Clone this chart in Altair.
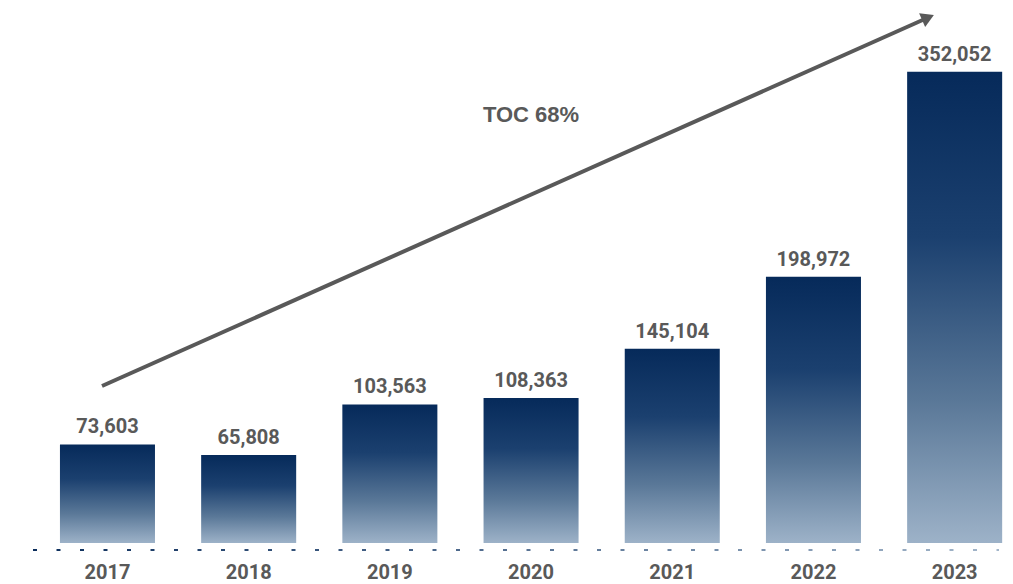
import altair as alt
import pandas as pd

years = ["2017", "2018", "2019", "2020", "2021", "2022", "2023"]
values = [73603, 65808, 103563, 108363, 145104, 198972, 352052]
annotation = "TOC 68%"

df = pd.DataFrame({"year": years, "value": values})

W, H = 970, 522
TEXT = "#595959"
NARROW = "Roboto, Liberation Sans, sans-serif"

x = alt.X("year:N", sort=years, axis=None,
          scale=alt.Scale(paddingInner=0.327, paddingOuter=0.0984, align=0.97))
y_scale = alt.Scale(domain=[0, 390000], nice=False, zero=True)

base = alt.Chart(df)

bars = base.mark_bar(
    color=alt.Gradient(
        gradient="linear", x1=0, x2=0, y1=0, y2=1,
        stops=[alt.GradientStop(offset=0, color="#062a5a"),
               alt.GradientStop(offset=0.35, color="#1b406f"),
               alt.GradientStop(offset=0.7, color="#5a7898"),
               alt.GradientStop(offset=1, color="#9db2c8")]),
).encode(x=x, y=alt.Y("value:Q", scale=y_scale, axis=None))

vlabels = base.mark_text(
    font=NARROW, fontSize=20, fontWeight="bold", color=TEXT,
    baseline="alphabetic", dy=-11,
).encode(x=x, y=alt.Y("value:Q", scale=y_scale), text=alt.Text("value:Q", format=",d"))

ylabels = base.mark_text(
    font=NARROW, fontSize=20, fontWeight="bold", color=TEXT,
    baseline="alphabetic",
).encode(x=x, y=alt.value(H + 36), text="year:N")

one = alt.Data(values=[{}])

dash_band = alt.Chart(one).mark_rect(
    color=alt.Gradient(
        gradient="linear", x1=0, x2=1, y1=0, y2=0,
        stops=[alt.GradientStop(offset=0, color="#0b2d5b"),
               alt.GradientStop(offset=1, color="#a3b6ca")]),
).encode(x=alt.value(0), x2=alt.value(W - 4), y=alt.value(H + 6), y2=alt.value(H + 8))

dash_mask = alt.Chart(one).mark_rule(
    color="white", strokeWidth=4, strokeDash=[19.5, 4], strokeDashOffset=19.5,
).encode(x=alt.value(0), x2=alt.value(W), y=alt.value(H + 7))

arrow = alt.Chart(one).mark_rule(
    color=TEXT, strokeWidth=4,
).encode(x=alt.value(69), x2=alt.value(893), y=alt.value(365), y2=alt.value(-2.5))

head = alt.Chart(one).mark_point(
    shape="triangle-right", filled=True, color=TEXT, opacity=1, size=220, angle=336,
).encode(x=alt.value(895), y=alt.value(-3.5))

toc = alt.Chart(one).mark_text(
    font="Liberation Sans, Arial, sans-serif", fontSize=22, fontWeight="bold",
    color=TEXT, baseline="middle", align="center",
).encode(x=alt.value(498), y=alt.value(94), text=alt.value(annotation))

chart = alt.layer(dash_band, dash_mask, bars, vlabels, ylabels, arrow, head, toc).properties(
    width=W, height=H,
    padding={"left": 25, "top": 13, "right": 2, "bottom": 40},
    autosize=alt.AutoSizeParams(type="none"),
).configure_view(stroke=None)

chart.save("out.html", embed_options={"renderer": "svg", "actions": False})
